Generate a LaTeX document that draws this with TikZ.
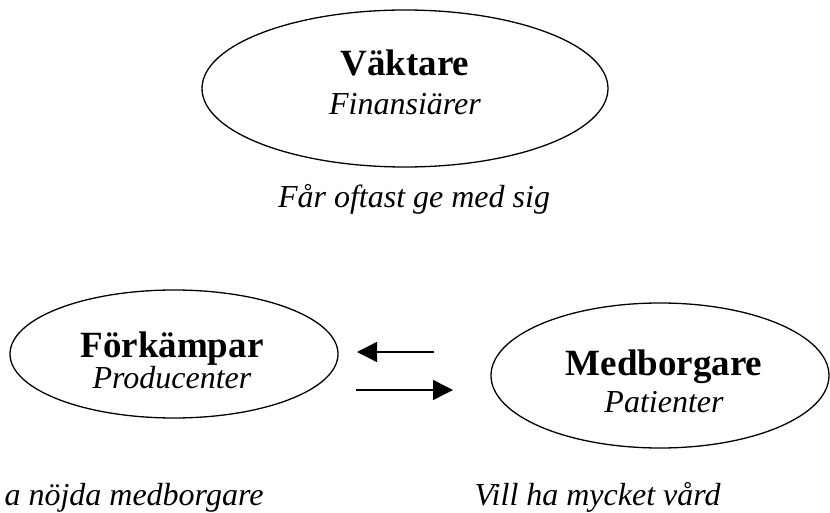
\documentclass[tikz,border=0pt]{standalone}
\usepackage{fontspec}
\setmainfont{Liberation Serif}
\usetikzlibrary{shapes.geometric,arrows.meta}

\tikzset{
  role/.style={ellipse, draw, line width=1.3pt, inner sep=0pt},
  title/.style={anchor=base, font=\fontsize{37}{44}\selectfont\bfseries},
  sub/.style={anchor=base, font=\fontsize{32}{38}\selectfont\itshape},
  remark/.style={font=\fontsize{32}{38}\selectfont\itshape},
  flow/.style={line width=1.4pt, -{Triangle[length=20pt,width=20pt]}}
}

\begin{document}
\begin{tikzpicture}[x=1pt,y=-1pt]
  \useasboundingbox (0,0) rectangle (830,513);
  \clip (0,0) rectangle (830,513);

  % Financiers
  \node[role, minimum width=406pt, minimum height=157pt] (vak) at (405,88.5) {};
  \node[title] (vakT) at (405,76) {Väktare};
  \node[sub]   (vakS) at (405,115) {Finansiärer};
  \node[remark, anchor=base] (vakR) at (414,208) {Får oftast ge med sig};

  % Producers
  \node[role, minimum width=328pt, minimum height=128pt] (fork) at (174,354) {};
  \node[title] (forkT) at (172,357) {Förkämpar};
  \node[sub]   (forkS) at (172,388) {Producenter};
  \node[remark, anchor=base west] (forkR) at (1,505) {a nöjda medborgare};

  % Citizens
  \node[role, minimum width=338pt, minimum height=145pt] (med) at (660,375.5) {};
  \node[title] (medT) at (664,375) {Medborgare};
  \node[sub]   (medS) at (664,412) {Patienter};
  \node[remark, anchor=base west] (medR) at (471,505) {Vill ha mycket vård};

  % Exchange between producers and citizens
  \coordinate (backFrom) at (434,352);
  \coordinate (backTo)   at (357,352);
  \coordinate (fwdFrom)  at (356,390);
  \coordinate (fwdTo)    at (453,390);
  \draw[flow] (backFrom) -- (backTo);
  \draw[flow] (fwdFrom) -- (fwdTo);
\end{tikzpicture}
\end{document}
